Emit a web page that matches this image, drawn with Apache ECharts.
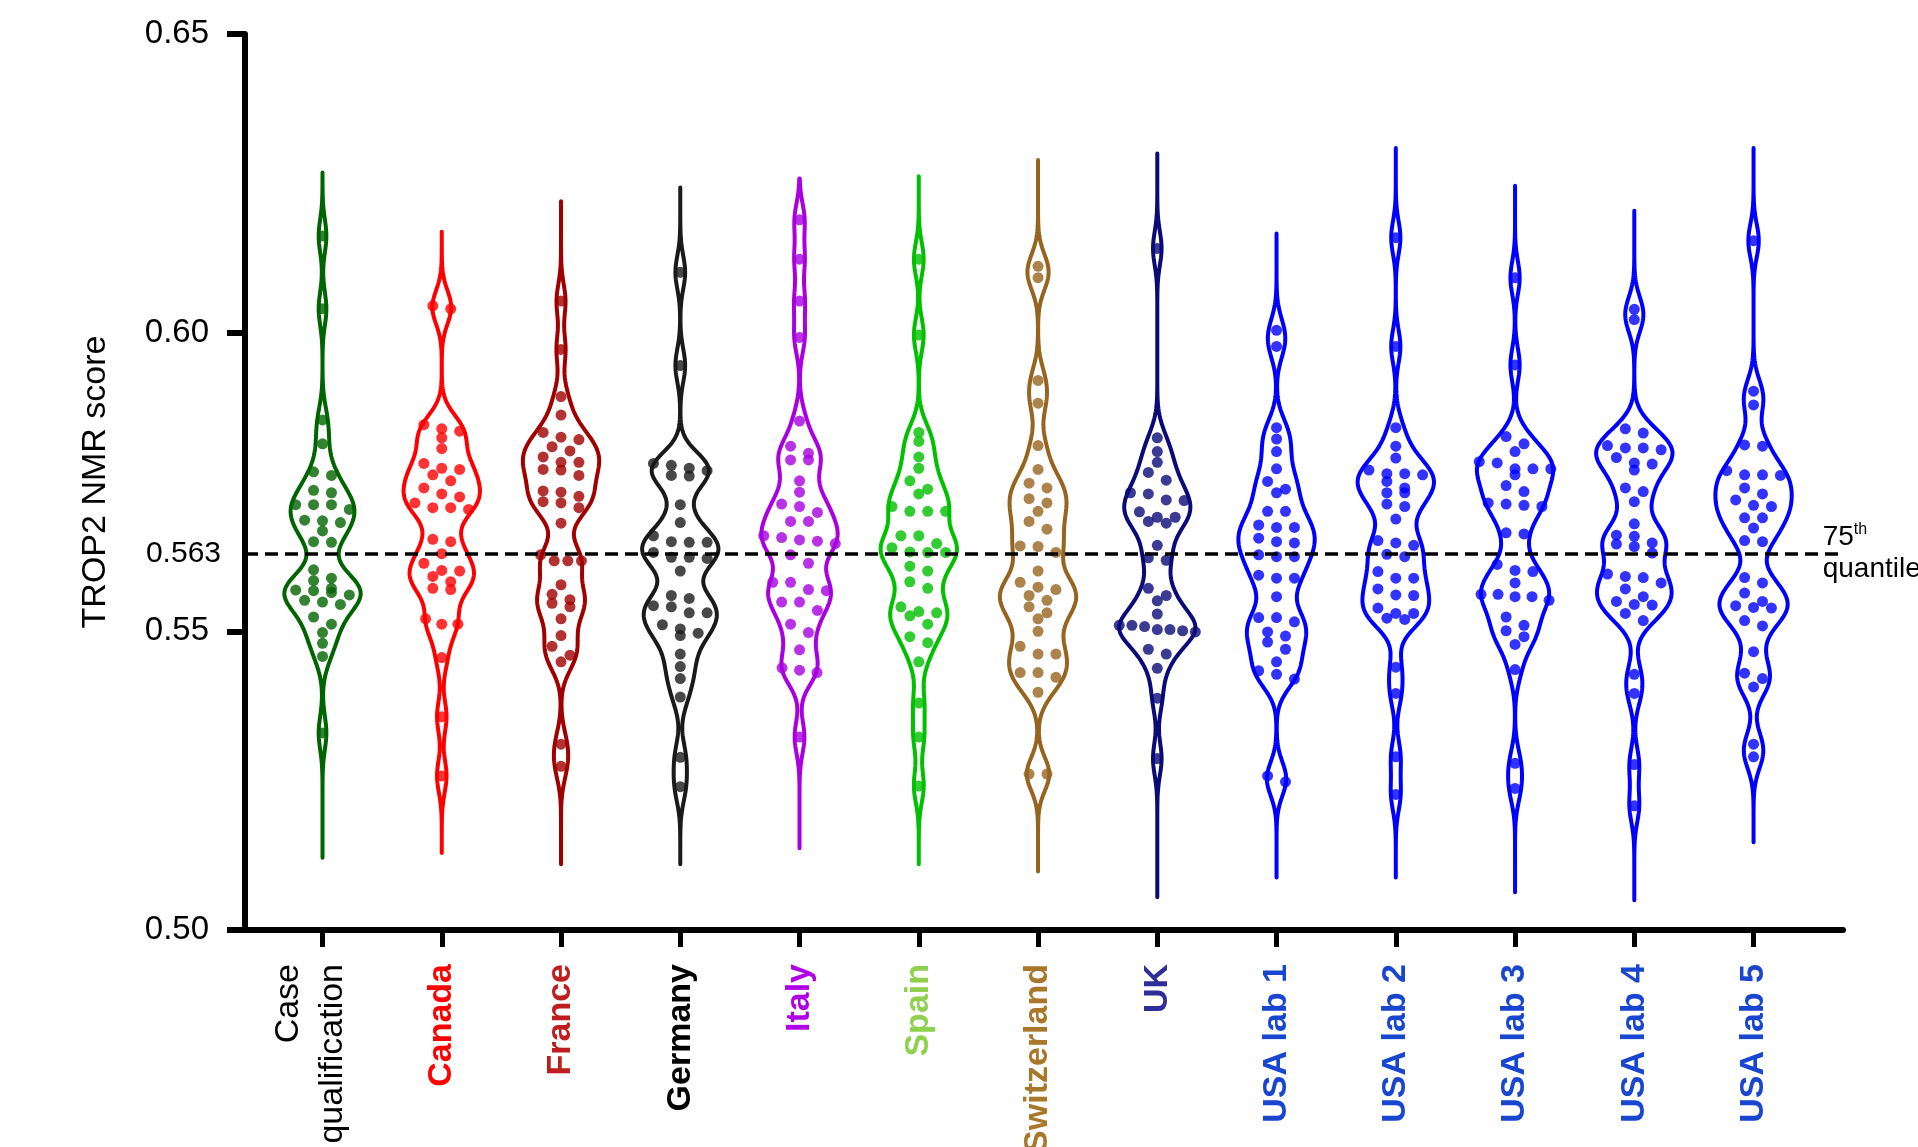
<!DOCTYPE html>
<html>
<head>
<meta charset="utf-8">
<title>TROP2 NMR score by site</title>
<script src="https://cdn.jsdelivr.net/npm/echarts@6/dist/echarts.min.js"></script>
<style>
  html, body { margin: 0; padding: 0; background: #fff; }
  #chart { width: 1918px; height: 1147px; }
</style>
</head>
<body>
<div id="chart"></div>
<script>
// groups along the x axis
const groupLabels = ['Case\nqualification', 'Canada', 'France', 'Germany', 'Italy', 'Spain',
  'Switzerland', 'UK', 'USA lab 1', 'USA lab 2', 'USA lab 3', 'USA lab 4', 'USA lab 5'];

// TROP2 NMR scores per group
const caseQualification = [0.6162, 0.6040, 0.5854, 0.5814, 0.5767, 0.5761, 0.5736, 0.5732, 0.5712, 0.5712,
  0.5712, 0.5704, 0.5685, 0.5686, 0.5682, 0.5668, 0.5650, 0.5649, 0.5603, 0.5589, 0.5585, 0.5572, 0.5569,
  0.5565, 0.5561, 0.5568, 0.5549, 0.5545, 0.5552, 0.5524, 0.5512, 0.5498, 0.5480, 0.5458, 0.5330];
const canada = [0.6045, 0.6040, 0.5846, 0.5839, 0.5835, 0.5824, 0.5806, 0.5781, 0.5773, 0.5771, 0.5762,
  0.5752, 0.5740, 0.5730, 0.5725, 0.5715, 0.5707, 0.5707, 0.5704, 0.5654, 0.5650, 0.5630, 0.5614, 0.5602,
  0.5601, 0.5592, 0.5583, 0.5572, 0.5570, 0.5521, 0.5512, 0.5512, 0.5456, 0.5357, 0.5258];
const france = [0.6053, 0.5972, 0.5893, 0.5862, 0.5833, 0.5825, 0.5821, 0.5809, 0.5802, 0.5792, 0.5783,
  0.5783, 0.5771, 0.5770, 0.5761, 0.5735, 0.5733, 0.5726, 0.5717, 0.5715, 0.5707, 0.5681, 0.5628, 0.5618,
  0.5618, 0.5618, 0.5578, 0.5562, 0.5553, 0.5547, 0.5541, 0.5521, 0.5493, 0.5475, 0.5460, 0.5449, 0.5311, 0.5274];
const germany = [0.6101, 0.5945, 0.5781, 0.5778, 0.5773, 0.5769, 0.5761, 0.5760, 0.5712, 0.5682, 0.5660,
  0.5650, 0.5649, 0.5649, 0.5632, 0.5624, 0.5624, 0.5622, 0.5601, 0.5560, 0.5555, 0.5543, 0.5541, 0.5531,
  0.5531, 0.5511, 0.5504, 0.5497, 0.5493, 0.5462, 0.5441, 0.5421, 0.5390, 0.5289, 0.5240];
const italy = [0.6189, 0.6123, 0.6053, 0.5992, 0.5852, 0.5810, 0.5798, 0.5787, 0.5787, 0.5752, 0.5733,
  0.5713, 0.5709, 0.5699, 0.5684, 0.5684, 0.5660, 0.5657, 0.5653, 0.5651, 0.5647, 0.5628, 0.5614, 0.5582,
  0.5582, 0.5570, 0.5568, 0.5549, 0.5549, 0.5535, 0.5512, 0.5498, 0.5469, 0.5439, 0.5435, 0.5431, 0.5323];
const spain = [0.6123, 0.5996, 0.5833, 0.5818, 0.5792, 0.5773, 0.5752, 0.5738, 0.5730, 0.5709, 0.5701,
  0.5701, 0.5701, 0.5660, 0.5660, 0.5647, 0.5640, 0.5633, 0.5632, 0.5632, 0.5609, 0.5601, 0.5583, 0.5572,
  0.5541, 0.5533, 0.5531, 0.5526, 0.5512, 0.5491, 0.5481, 0.5449, 0.5380, 0.5323, 0.5241];
const switzerland = [0.6111, 0.6092, 0.5920, 0.5882, 0.5811, 0.5771, 0.5748, 0.5740, 0.5722, 0.5715, 0.5701,
  0.5684, 0.5671, 0.5643, 0.5642, 0.5632, 0.5601, 0.5582, 0.5574, 0.5570, 0.5560, 0.5552, 0.5541, 0.5531,
  0.5521, 0.5500, 0.5475, 0.5462, 0.5462, 0.5431, 0.5431, 0.5423, 0.5398, 0.5261, 0.5261];
const uk = [0.6141, 0.5824, 0.5801, 0.5783, 0.5766, 0.5753, 0.5732, 0.5730, 0.5720, 0.5719, 0.5700, 0.5691,
  0.5691, 0.5684, 0.5681, 0.5644, 0.5623, 0.5619, 0.5572, 0.5560, 0.5551, 0.5529, 0.5510, 0.5510, 0.5508,
  0.5503, 0.5503, 0.5501, 0.5499, 0.5470, 0.5462, 0.5438, 0.5388, 0.5287];
const usaLab1 = [0.6004, 0.5977, 0.5841, 0.5822, 0.5801, 0.5772, 0.5751, 0.5738, 0.5732, 0.5701, 0.5701,
  0.5678, 0.5674, 0.5674, 0.5656, 0.5650, 0.5648, 0.5628, 0.5625, 0.5625, 0.5594, 0.5589, 0.5589, 0.5558,
  0.5523, 0.5523, 0.5516, 0.5499, 0.5492, 0.5482, 0.5470, 0.5449, 0.5434, 0.5428, 0.5420, 0.5258, 0.5248];
const usaLab2 = [0.6159, 0.5977, 0.5841, 0.5810, 0.5790, 0.5770, 0.5764, 0.5764, 0.5762, 0.5751, 0.5740,
  0.5732, 0.5732, 0.5713, 0.5709, 0.5688, 0.5652, 0.5648, 0.5644, 0.5629, 0.5625, 0.5600, 0.5589, 0.5589,
  0.5571, 0.5561, 0.5560, 0.5539, 0.5530, 0.5530, 0.5522, 0.5520, 0.5440, 0.5396, 0.5290, 0.5227];
const usaLab3 = [0.6092, 0.5946, 0.5826, 0.5814, 0.5801, 0.5784, 0.5782, 0.5772, 0.5772, 0.5772, 0.5762,
  0.5744, 0.5734, 0.5715, 0.5713, 0.5711, 0.5709, 0.5665, 0.5663, 0.5612, 0.5602, 0.5600, 0.5581, 0.5562,
  0.5562, 0.5558, 0.5558, 0.5552, 0.5524, 0.5510, 0.5501, 0.5491, 0.5478, 0.5436, 0.5279, 0.5237];
const usaLab4 = [0.6039, 0.6022, 0.5839, 0.5832, 0.5811, 0.5807, 0.5807, 0.5804, 0.5791, 0.5782, 0.5780,
  0.5770, 0.5740, 0.5734, 0.5717, 0.5680, 0.5661, 0.5659, 0.5648, 0.5646, 0.5642, 0.5631, 0.5596, 0.5592,
  0.5590, 0.5581, 0.5571, 0.5558, 0.5550, 0.5545, 0.5544, 0.5530, 0.5518, 0.5428, 0.5396, 0.5277, 0.5208];
const usaLab5 = [0.6154, 0.5902, 0.5879, 0.5812, 0.5810, 0.5769, 0.5762, 0.5762, 0.5761, 0.5740, 0.5730,
  0.5720, 0.5711, 0.5709, 0.5690, 0.5690, 0.5673, 0.5652, 0.5650, 0.5590, 0.5581, 0.5564, 0.5550, 0.5543,
  0.5540, 0.5539, 0.5518, 0.5509, 0.5466, 0.5430, 0.5421, 0.5407, 0.5311, 0.5290];

const groupValues = [caseQualification, canada, france, germany, italy, spain, switzerland,
  uk, usaLab1, usaLab2, usaLab3, usaLab4, usaLab5];

// where each violin's thin tail ends
const violinTop = [0.6268, 0.6169, 0.6220, 0.6243, 0.6258, 0.6262, 0.6289, 0.6300, 0.6166, 0.6309, 0.6246, 0.6204, 0.6309];
const violinBottom = [0.5121, 0.5129, 0.5110, 0.5110, 0.5137, 0.5110, 0.5098, 0.5055, 0.5088, 0.5088, 0.5063, 0.5050, 0.5147];

const yTicks = [0.50, 0.55, 0.60, 0.65];
const cutoff = 0.563; // 75th quantile

const violinColors = ['#006400', '#ff0000', '#a00000', '#1a1a1a', '#a800e0', '#00c000', '#96641e',
  '#0a0a78', '#0000ff', '#0000ff', '#0000ff', '#0000ff', '#0000ff'];
const labelColors = ['#000000', '#ff0000', '#be1e1e', '#000000', '#b000e8', '#8fd14f', '#a8772a',
  '#2e2e9a', '#1846d0', '#1846d0', '#1846d0', '#1846d0', '#1846d0'];

const FONT = '"Liberation Sans", Arial, Helvetica, sans-serif';
const bandwidth = 0.0028;
const maxHalfWidth = 0.32;
const rowTolerance = 0.0015;
const dotStep = 0.15;

// kernel density outline of each violin
const profiles = groupValues.map((vals, i) => {
  const lo = violinBottom[i], hi = violinTop[i], steps = 300;
  const pts = [];
  for (let k = 0; k <= steps; k++) {
    const y = lo + (hi - lo) * k / steps;
    let d = 0;
    vals.forEach(v => { const z = (y - v) / bandwidth; d += Math.exp(-0.5 * z * z); });
    pts.push([y, d]);
  }
  const max = Math.max(...pts.map(p => p[1]));
  return pts.map(p => [p[0], p[1] / max * maxHalfWidth]);
});

function halfWidthAt(i, y) {
  const prof = profiles[i];
  let best = prof[0];
  prof.forEach(p => { if (Math.abs(p[0] - y) < Math.abs(best[0] - y)) best = p; });
  return best[1];
}

// rows of dots spread sideways like a beeswarm
function swarm(vals, i) {
  const sorted = vals.slice().sort((a, b) => b - a);
  const rows = [];
  sorted.forEach(v => {
    const row = rows[rows.length - 1];
    if (row && row[0] - v < rowTolerance) row.push(v); else rows.push([v]);
  });
  const out = [];
  rows.forEach(row => {
    const n = row.length;
    const mean = row.reduce((a, b) => a + b, 0) / n;
    let step = dotStep;
    if (n > 1) step = Math.min(dotStep, 2 * halfWidthAt(i, mean) / (n - 1));
    row.forEach((v, k) => out.push([i + (k - (n - 1) / 2) * step, v]));
  });
  return out;
}

const chart = echarts.init(document.getElementById('chart'));

const richLabels = {};
groupLabels.forEach((_, i) => {
  richLabels['g' + i] = {
    color: labelColors[i], fontFamily: FONT, fontSize: 34, lineHeight: 44,
    fontWeight: i === 0 ? 'normal' : 'bold'
  };
});
// empty trailing line so "Case qualification" sits a little left of its tick
richLabels.gap = { fontSize: 10, lineHeight: 24 };

const scatterSeries = groupValues.map((vals, i) => ({
  type: 'scatter',
  name: groupLabels[i],
  data: swarm(vals, i),
  symbolSize: 11,
  itemStyle: { color: violinColors[i] },
  silent: true,
  z: 3
}));

scatterSeries[0].markLine = {
  silent: true,
  symbol: ['none', 'none'],
  z: 10,
  lineStyle: { color: '#000', width: 3.5, type: [13, 7] },
  label: {
    show: true, position: 'start', distance: 24, formatter: '0.563',
    color: '#000', fontFamily: FONT, fontSize: 30
  },
  data: [[{ coord: [-0.65, cutoff] }, { coord: [12.725, cutoff] }]]
};

chart.setOption({
  animation: false,
  backgroundColor: '#fff',
  grid: { left: 245, right: 75, top: 34, bottom: 217, outerBoundsMode: 'none' },
  xAxis: {
    type: 'value',
    min: -0.65,
    max: 12.75,
    splitLine: { show: false },
    axisLine: { show: true, onZero: false, lineStyle: { color: '#000', width: 6 } },
    axisTick: { show: true, customValues: groupLabels.map((_, i) => i), length: 17, lineStyle: { color: '#000', width: 5 } },
    axisLabel: {
      customValues: groupLabels.map((_, i) => i),
      rotate: 90,
      margin: 34,
      formatter: v => {
        const i = Math.round(v);
        if (i === 0) return '{g0|Case}\n{g0|qualification}\n{gap| }';
        return '{g' + i + '|' + groupLabels[i] + '}';
      },
      rich: richLabels
    }
  },
  yAxis: {
    type: 'value',
    min: 0.5,
    max: 0.65,
    name: 'TROP2 NMR score',
    nameLocation: 'middle',
    nameRotate: 90,
    nameGap: 132,
    nameTextStyle: { color: '#000', fontFamily: FONT, fontSize: 34 },
    splitLine: { show: false },
    axisLine: { show: true, onZero: false, lineStyle: { color: '#000', width: 6 } },
    axisTick: { show: true, customValues: yTicks, length: 18, lineStyle: { color: '#000', width: 6 } },
    axisLabel: {
      customValues: yTicks,
      margin: 36,
      formatter: v => v.toFixed(2),
      color: '#000', fontFamily: FONT, fontSize: 33
    }
  },
  series: [{
    type: 'custom',
    silent: true,
    z: 2,
    data: groupValues.map((_, i) => [i, violinBottom[i], violinTop[i]]),
    encode: { x: 0, y: [1, 2] },
    renderItem: (params, api) => {
      const i = api.value(0);
      const prof = profiles[i];
      const right = prof.map(p => api.coord([i + p[1], p[0]]));
      const left = prof.slice().reverse().map(p => api.coord([i - p[1], p[0]]));
      return {
        type: 'polygon',
        shape: { points: right.concat(left) },
        style: { fill: 'none', stroke: violinColors[i], lineWidth: 4, lineJoin: 'round' }
      };
    }
  }].concat(scatterSeries)
});

// "75th quantile" note at the right end of the cutoff line
const notePos = chart.convertToPixel({ gridIndex: 0 }, [12.58, cutoff]);
chart.setOption({
  graphic: [{
    type: 'text',
    x: notePos[0],
    y: notePos[1],
    z: 20,
    style: {
      text: '{a|75}{s|th}\n{a|quantile}',
      align: 'left',
      verticalAlign: 'middle',
      fill: '#000',
      rich: {
        a: { fontFamily: FONT, fontSize: 28, lineHeight: 32, fill: '#000' },
        s: { fontFamily: FONT, fontSize: 16, lineHeight: 32, verticalAlign: 'top', fill: '#000' }
      }
    }
  }]
});
</script>
</body>
</html>
